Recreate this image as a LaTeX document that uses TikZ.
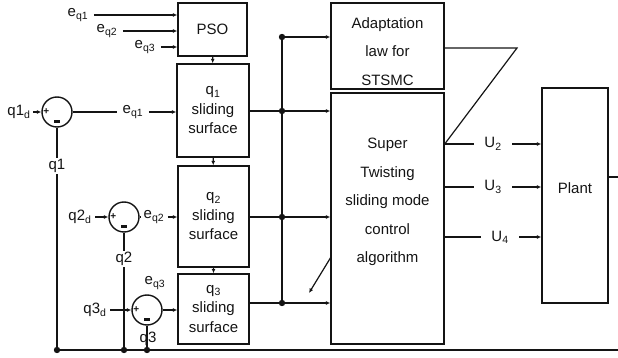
\documentclass[tikz,border=0pt]{standalone}
\usepackage{fontspec}
\setmainfont{Liberation Sans}
\usetikzlibrary{arrows.meta,positioning}
\definecolor{sigblk}{RGB}{20,20,20}

\begin{document}
\begin{tikzpicture}[x=1pt, y=-1pt, line width=1.2pt, color=sigblk,
  font=\fontsize{15}{19.5}\selectfont,
  blk/.style={draw, line width=1.4pt, inner sep=0pt, align=center},
  sumnode/.style={circle, draw, line width=1.4pt, minimum size=30pt, inner sep=0pt},
  lab/.style={inner xsep=5pt, inner ysep=1pt},
  bigtxt/.style={align=center, font=\fontsize{15}{28.5}\selectfont},
  arr/.style={-{Latex[length=4.5pt,width=4pt]}}]
\useasboundingbox (0,0) rectangle (618,358);

% PSO and the three sliding surfaces
\node[blk, minimum width=69pt, minimum height=53pt] (pso) at (212.5,29.5) {PSO};
\node[blk, minimum width=72pt, minimum height=93pt] (s1) at (213,110.5) {q\textsubscript{1}\\sliding\\surface};
\node[blk, minimum width=71pt, minimum height=101pt] (s2) at (213.5,216.5) {q\textsubscript{2}\\sliding\\surface};
\node[blk, minimum width=71pt, minimum height=70pt] (s3) at (213.5,309) {q\textsubscript{3}\\sliding\\surface};
\draw[arr] (pso) -- (s1);
\draw[arr] (s1) -- (s2);
\draw[arr] (s2) -- (s3);

% controller and plant
\node[blk, minimum width=113pt, minimum height=86pt] (adapt) at (387.5,46) {};
\node[bigtxt] (adapttxt) at (387.5,51.5) {Adaptation\\law for\\STSMC};
\node[blk, minimum width=113pt, minimum height=251pt] (stsmc) at (387.5,218.5) {};
\node[bigtxt] (stsmctxt) at (387.5,202) {Super\\Twisting\\sliding mode\\control\\algorithm};
\node[blk, minimum width=66pt, minimum height=215pt] (plant) at (575,195.5) {};
\node (planttxt) at (575,188) {Plant};

% errors into PSO
\node[lab] (ein1) at (78,15) {e\textsubscript{q1}};
\node[lab] (ein2) at (107,31) {e\textsubscript{q2}};
\node[lab] (ein3) at (145,47) {e\textsubscript{q3}};
\foreach \e in {ein1,ein2,ein3}
  \draw[arr] (\e) -- (pso.west |- \e);

% summing junctions
\node[sumnode] (sum1) at (57,112) {};
\node[sumnode] (sum2) at (124,217) {};
\node[sumnode] (sum3) at (147,310) {};
\foreach \s in {sum1,sum2,sum3}{
  \node[font=\fontsize{10}{10}\selectfont\bfseries, inner sep=0pt] (\s p) at ([xshift=5pt]\s.west) {+};
  \node[inner sep=0pt] (\s m) at ([yshift=6pt]\s.south) {\rule{6pt}{2.5pt}};
}

% loop 1
\node[lab, inner xsep=2pt] (q1d) at (19,112) {q1\textsubscript{d}};
\node[lab] (e1mid) at (133,112) {e\textsubscript{q1}};
\node[lab] (q1lab) at (57,166) {q1};
\draw[arr] (q1d) -- (sum1);
\draw (sum1) -- (e1mid);
\draw[arr] (e1mid) -- (s1.west |- e1mid);
\draw (sum1) -- (q1lab);

% loop 2
\node[lab, inner xsep=3pt] (q2d) at (80,217) {q2\textsubscript{d}};
\node[lab, inner xsep=3pt] (e2mid) at (154,217) {e\textsubscript{q2}};
\node[lab] (q2lab) at (124,259) {q2};
\draw[arr] (q2d) -- (sum2);
\draw (sum2) -- (e2mid);
\draw[arr] (e2mid) -- (s2.west |- e2mid);
\draw (sum2) -- (q2lab);

% loop 3
\node[lab, inner xsep=3pt] (q3d) at (95,310) {q3\textsubscript{d}};
\node[lab] (e3lab) at (155,283) {e\textsubscript{q3}};
\draw[arr] (q3d) -- (sum3);
\draw[arr] (sum3) -- (s3.west |- sum3);

% feedback line
\coordinate (f1) at (57,350);
\coordinate (f2) at (124,350);
\coordinate (f3) at (147,350);
\coordinate (fend) at (618,350);
\draw (q1lab) -- (f1);
\draw (q2lab) -- (f2);
\draw (sum3) -- (f3);
\node[lab] (q3lab) at (148,339) {q3};
\draw (f1) -- (fend);

% bus to controller
\coordinate (b0) at (282,37);
\coordinate (b1) at (282,111);
\coordinate (b2) at (282,217);
\coordinate (b3) at (282,303);
\draw (s1.east |- b1) -- (b1);
\draw (s2.east |- b2) -- (b2);
\draw (s3.east |- b3) -- (b3);
\draw (b0) -- (b3);
\draw[arr] (b0) -- (adapt.west |- b0);
\foreach \b in {b1,b2,b3}
  \draw[arr] (\b) -- (stsmc.west |- \b);
\foreach \b in {b0,b1,b2,b3,f1,f2,f3}
  \fill (\b) circle (3.2pt);
\coordinate (dg1) at (331,257);
\coordinate (dg2) at (309,293);
\draw[arr] (dg1) -- (dg2);

% control outputs
\node[lab, inner xsep=10pt] (u2) at (493,144) {U\textsubscript{2}};
\node[lab, inner xsep=10pt] (u3) at (493,187) {U\textsubscript{3}};
\node[lab, inner xsep=10pt] (u4) at (500,237) {U\textsubscript{4}};
\foreach \u in {u2,u3,u4}{
  \draw (stsmc.east |- \u) -- (\u);
  \draw[arr] (\u) -- (plant.west |- \u);
}
\coordinate (apex) at (517,48);
\draw (adapt.east |- apex) -- (apex) -- (stsmc.east |- u2);
\coordinate (pout) at (618,177);
\draw (plant.east |- pout) -- (pout);
\end{tikzpicture}
\end{document}
